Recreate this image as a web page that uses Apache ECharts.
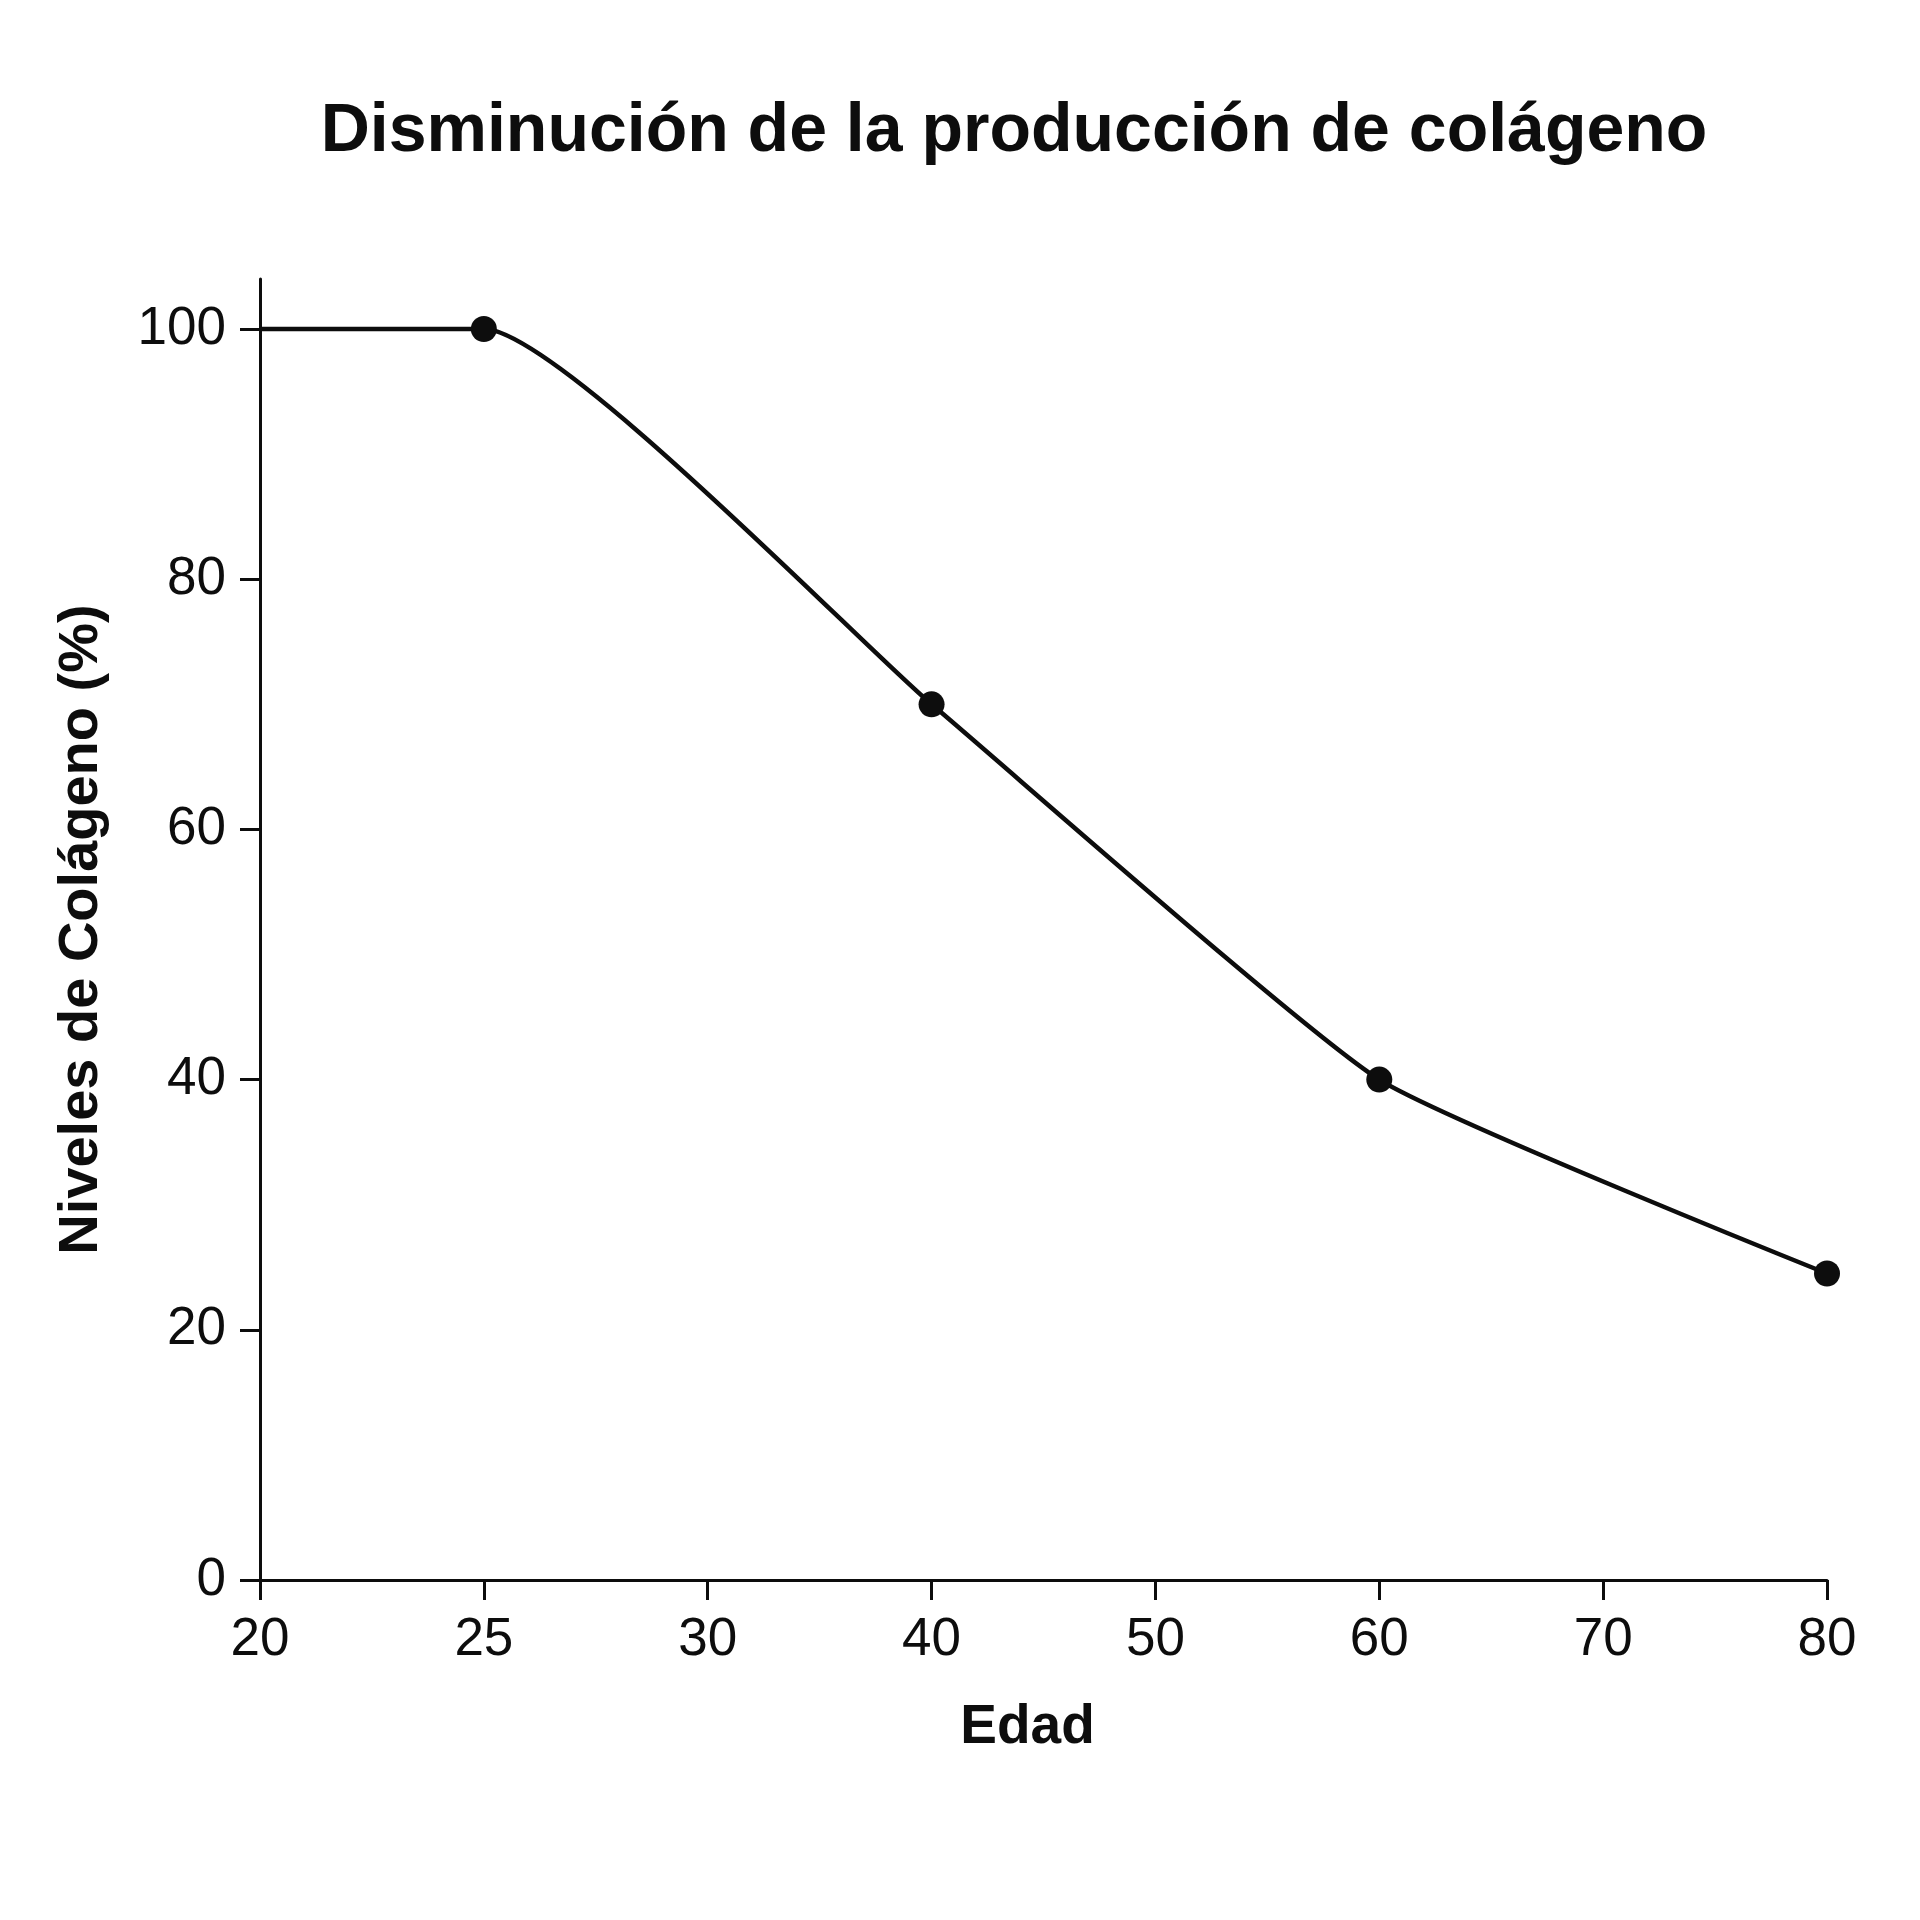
<!DOCTYPE html>
<html>
<head>
<meta charset="utf-8">
<title>Disminución de la producción de colágeno</title>
<script src="https://cdn.jsdelivr.net/npm/echarts@6/dist/echarts.min.js"></script>
<style>
  html, body { margin: 0; padding: 0; background: #fff; }
  #chart { width: 1920px; height: 1920px; }
</style>
</head>
<body>
<div id="chart"></div>
<script>
// etiquetas del eje X (edad)
const ageTicks = ['20', '25', '30', '40', '50', '60', '70', '80'];
// puntos de la curva
const ages = ['20', '25', '40', '60', '80'];
const levels = [100, 100, 70, 40, 24.5];
// etiquetas del eje Y
const levelTicks = [0, 20, 40, 60, 80, 100];

const font = '"Liberation Sans", Arial, Helvetica, sans-serif';
const ink = '#0d0d0d';

const chart = echarts.init(document.getElementById('chart'));

const lineData = ages.map((a, i) => ({
  value: [a, levels[i]],
  // el primer punto (20) no lleva marcador
  symbolSize: i === 0 ? 0 : 26,
}));

chart.setOption({
  backgroundColor: '#fff',
  animation: false,
  title: {
    text: 'Disminución de la producción de colágeno',
    left: 1014,
    textAlign: 'center',
    top: 98,
    padding: 0,
    textStyle: {
      fontFamily: font,
      fontSize: 68,
      fontWeight: 'bold',
      color: ink,
    },
  },
  grid: {
    left: 260,
    right: 93,
    top: 279,
    bottom: 340,
    containLabel: false,
  },
  xAxis: {
    type: 'category',
    data: ageTicks,
    boundaryGap: false,
    name: 'Edad',
    nameLocation: 'middle',
    nameGap: 120,
    nameTextStyle: {
      fontFamily: font,
      fontSize: 55,
      fontWeight: 'bold',
      color: ink,
      padding: [0, 32, 0, 0],
    },
    axisLine: { lineStyle: { color: ink, width: 3 } },
    axisTick: { interval: 0, length: 20, lineStyle: { color: ink, width: 3 } },
    axisLabel: {
      interval: 0,
      margin: 34,
      fontFamily: font,
      fontSize: 53,
      color: ink,
    },
    splitLine: { show: false },
  },
  yAxis: {
    type: 'value',
    min: 0,
    max: 104,
    name: 'Niveles de Colágeno (%)',
    nameLocation: 'middle',
    nameGap: 150,
    nameTextStyle: {
      fontFamily: font,
      fontSize: 56,
      fontWeight: 'bold',
      color: ink,
    },
    axisLine: { show: true, lineStyle: { color: ink, width: 3 } },
    axisTick: {
      show: true,
      length: 20,
      customValues: levelTicks,
      lineStyle: { color: ink, width: 3 },
    },
    axisLabel: {
      customValues: levelTicks,
      margin: 34,
      fontFamily: font,
      fontSize: 53,
      color: ink,
    },
    splitLine: { show: false },
  },
  series: [{
    type: 'line',
    data: lineData,
    smooth: 0.15,
    symbol: 'circle',
    showSymbol: true,
    lineStyle: { color: ink, width: 4.5 },
    itemStyle: { color: ink },
    z: 3,
  }],
});
</script>
</body>
</html>
